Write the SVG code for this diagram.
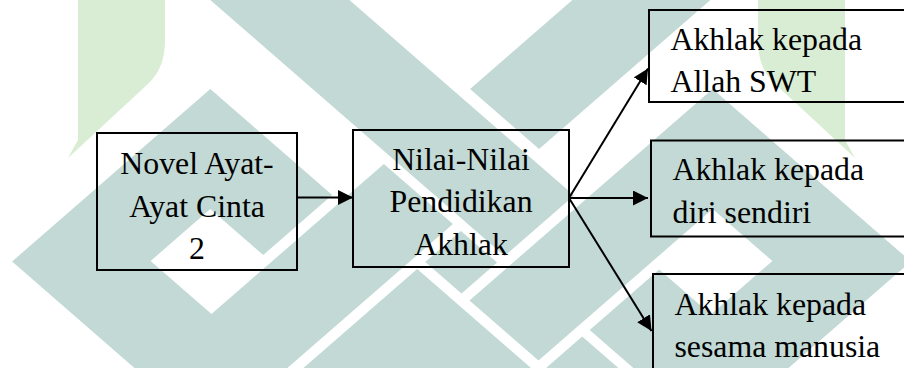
<svg xmlns="http://www.w3.org/2000/svg" width="904" height="368" viewBox="0 0 904 368">
  <style>
    .wm-teal { fill: #c2d9d5; }
    .wm-green { fill: #d9edd4; }
    .box { fill: none; stroke: #000; stroke-width: 2; }
    .lbl { font-family: "Liberation Serif", "Times New Roman", serif; font-size: 31.8px; fill: #000; }
    .mid { text-anchor: middle; }
    .conn { stroke: #000; stroke-width: 2; fill: none; marker-end: url(#arrow); }
  </style>
  <defs>
    <marker id="arrow" markerUnits="userSpaceOnUse" markerWidth="16" markerHeight="16" refX="15" refY="7.5" orient="auto">
      <path d="M0,0 L15,7.5 L0,15 Z" fill="#000"/>
    </marker>
  </defs>
  <rect width="904" height="368" fill="#fff"/>
  <g id="watermark">
    <path class="wm-green" d="M78,0 H165 V38 C165,58 161,70 150,82 L68,158 L78,140 Z"/>
    <path class="wm-green" d="M845,0 H758 V38 C758,58 762,70 773,82 L855,158 L845,140 Z"/>
    <polygon class="wm-teal" points="210.3,89 332.2,195 263.2,255 210.3,209 150.6,261 211.5,314 271.3,262 383.9,164 452.9,224 210.9,434.5 12.1,261.5"/>
    <polygon class="wm-teal" points="162.6,-41.5 504.6,256 574.1,195.5 232.2,-102"/>
    <polygon class="wm-teal" points="470.1,89 539.1,149 815,-91 746,-151"/>
    <polygon class="wm-teal" points="460.9,231 425.3,262 461.5,293.5 497.1,262.5"/>
    <polygon class="wm-teal" points="417.2,269 600,428 234.5,428"/>
    <polygon class="wm-teal" points="469.5,300.5 712.6,89 910.9,261.5 710.9,435.5 589.7,330 659.2,269.5 710.9,314.5 772.4,261 712.6,209 538.5,360.5"/>
    <polygon class="wm-teal" points="582.2,336.5 546.6,367.5 636.8,446 672.4,415"/>
  </g>
  <g id="connectors">
    <line class="conn" x1="297" y1="197.5" x2="353" y2="197.5"/>
    <line class="conn" x1="569" y1="198" x2="648" y2="198"/>
    <line class="conn" x1="569" y1="198" x2="648" y2="68.5"/>
    <line class="conn" x1="569" y1="198" x2="651.5" y2="331"/>
  </g>
  <g id="node-novel">
    <rect class="box" x="97" y="133" width="200" height="137"/>
    <text class="lbl mid" x="197" y="174">Novel Ayat-</text>
    <text class="lbl mid" x="197" y="216.5">Ayat Cinta</text>
    <text class="lbl mid" x="197" y="259">2</text>
  </g>
  <g id="node-nilai">
    <rect class="box" x="353" y="130" width="216" height="137"/>
    <text class="lbl mid" x="461" y="170">Nilai-Nilai</text>
    <text class="lbl mid" x="461" y="212">Pendidikan</text>
    <text class="lbl mid" x="461" y="254.5">Akhlak</text>
  </g>
  <g id="node-allah">
    <rect class="box" x="649" y="10" width="300" height="92"/>
    <text class="lbl" x="670.5" y="49.5">Akhlak kepada</text>
    <text class="lbl" x="670.5" y="92">Allah SWT</text>
  </g>
  <g id="node-diri">
    <rect class="box" x="651" y="140.5" width="300" height="96"/>
    <text class="lbl" x="672.5" y="180">Akhlak kepada</text>
    <text class="lbl" x="672.5" y="222.5">diri sendiri</text>
  </g>
  <g id="node-sesama">
    <rect class="box" x="653" y="274" width="300" height="120"/>
    <text class="lbl" x="674.5" y="314.5">Akhlak kepada</text>
    <text class="lbl" x="674.5" y="357">sesama manusia</text>
  </g>
</svg>
